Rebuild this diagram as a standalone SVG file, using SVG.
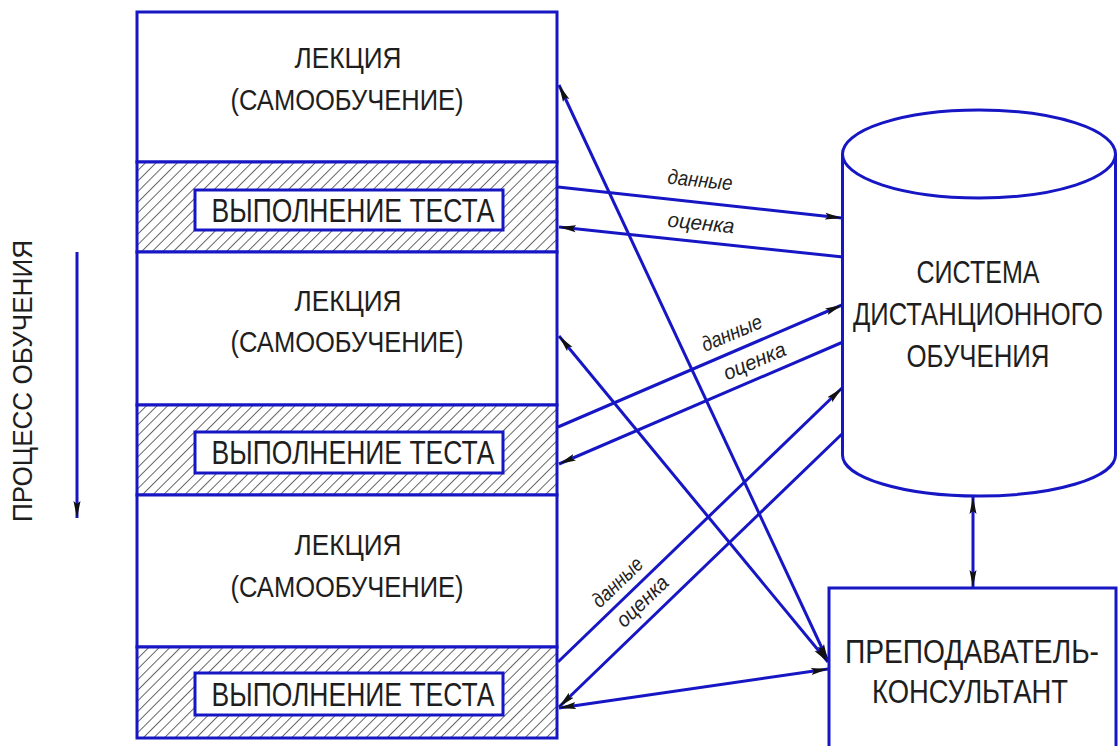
<svg xmlns="http://www.w3.org/2000/svg" width="1119" height="746" viewBox="0 0 1119 746">
<defs>
<style>
.box{fill:#fff;stroke:#1616c4;stroke-width:3}
.hatchbox{fill:url(#hatch);stroke:#1616c4;stroke-width:3}
.ln{fill:none;stroke:#1616c4;stroke-width:3}
.t{font-family:"Liberation Sans",Arial,sans-serif;fill:#1e1e1e;text-anchor:middle}
.lbl{font-family:"Liberation Sans",Arial,sans-serif;font-style:italic;fill:#222;text-anchor:middle;font-size:21px}
</style>
<pattern id="hatch" width="7.5" height="7.5" patternUnits="userSpaceOnUse" patternTransform="rotate(45)">
<rect width="7.5" height="7.5" fill="#fff"/>
<line x1="0.5" y1="0" x2="0.5" y2="7.5" stroke="#555" stroke-width="0.9"/>
</pattern>
<marker id="ah" viewBox="0 -5 18 10" refX="17" refY="0" markerWidth="18" markerHeight="10" markerUnits="userSpaceOnUse" orient="auto-start-reverse">
<path d="M0,-3.5 L17,0 L0,3.5 L3,0 Z" fill="#111"/>
</marker>
</defs>
<rect width="1119" height="746" fill="#fff"/>

<g id="process">
<text class="t" font-size="28" transform="translate(32,381) rotate(-90)" textLength="282" lengthAdjust="spacingAndGlyphs">ПРОЦЕСС ОБУЧЕНИЯ</text>
<line class="ln" x1="77" y1="252" x2="77" y2="518" marker-end="url(#ah)"/>
</g>

<g id="lecture1">
<rect class="box" x="137" y="12" width="420" height="150"/>
<text class="t" x="348" y="68" font-size="29" textLength="107" lengthAdjust="spacingAndGlyphs">ЛЕКЦИЯ</text>
<text class="t" x="347" y="110" font-size="29" textLength="233" lengthAdjust="spacingAndGlyphs">(САМООБУЧЕНИЕ)</text>
</g>
<g id="test1">
<rect class="hatchbox" x="137" y="162" width="420" height="90"/>
<rect class="box" x="195" y="190" width="308" height="40"/>
<text class="t" x="353" y="222" font-size="34" textLength="283" lengthAdjust="spacingAndGlyphs">ВЫПОЛНЕНИЕ ТЕСТА</text>
</g>
<g id="lecture2">
<rect class="box" x="137" y="252" width="420" height="153"/>
<text class="t" x="348" y="311" font-size="29" textLength="107" lengthAdjust="spacingAndGlyphs">ЛЕКЦИЯ</text>
<text class="t" x="347" y="352" font-size="29" textLength="233" lengthAdjust="spacingAndGlyphs">(САМООБУЧЕНИЕ)</text>
</g>
<g id="test2">
<rect class="hatchbox" x="137" y="405" width="420" height="90"/>
<rect class="box" x="195" y="432" width="308" height="41"/>
<text class="t" x="353" y="464" font-size="34" textLength="283" lengthAdjust="spacingAndGlyphs">ВЫПОЛНЕНИЕ ТЕСТА</text>
</g>
<g id="lecture3">
<rect class="box" x="137" y="495" width="420" height="152"/>
<text class="t" x="348" y="555" font-size="29" textLength="107" lengthAdjust="spacingAndGlyphs">ЛЕКЦИЯ</text>
<text class="t" x="347" y="597" font-size="29" textLength="233" lengthAdjust="spacingAndGlyphs">(САМООБУЧЕНИЕ)</text>
</g>
<g id="test3">
<rect class="hatchbox" x="137" y="647" width="420" height="91"/>
<rect class="box" x="195" y="673" width="308" height="42"/>
<text class="t" x="353" y="706" font-size="34" textLength="283" lengthAdjust="spacingAndGlyphs">ВЫПОЛНЕНИЕ ТЕСТА</text>
</g>

<g id="lms">
<path class="box" d="M842.5,154 L842.5,455 A136.5,41 0 0 0 1115.5,455 L1115.5,154"/>
<ellipse class="box" cx="979" cy="154" rx="136.5" ry="44"/>
<text class="t" x="978" y="283" font-size="32" textLength="123" lengthAdjust="spacingAndGlyphs">СИСТЕМА</text>
<text class="t" transform="translate(978,325) scale(1,1.2)" font-size="26.5" textLength="250" lengthAdjust="spacingAndGlyphs">ДИСТАНЦИОННОГО</text>
<text class="t" x="978" y="367" font-size="32" textLength="143" lengthAdjust="spacingAndGlyphs">ОБУЧЕНИЯ</text>
</g>

<g id="teacher">
<rect class="box" x="829" y="588" width="287" height="175"/>
<text class="t" transform="translate(972,663) scale(1,1.25)" font-size="27" textLength="254" lengthAdjust="spacingAndGlyphs">ПРЕПОДАВАТЕЛЬ-</text>
<text class="t" x="970" y="703" font-size="34" textLength="196" lengthAdjust="spacingAndGlyphs">КОНСУЛЬТАНТ</text>
</g>

<g id="connectors">
<line class="ln" x1="558" y1="187" x2="842" y2="218" marker-end="url(#ah)"/>
<line class="ln" x1="843" y1="257" x2="559" y2="227" marker-end="url(#ah)"/>
<line class="ln" x1="558" y1="427" x2="842" y2="305" marker-end="url(#ah)"/>
<line class="ln" x1="843" y1="342" x2="559" y2="464" marker-end="url(#ah)"/>
<line class="ln" x1="558" y1="662" x2="842" y2="388" marker-end="url(#ah)"/>
<line class="ln" x1="843" y1="433" x2="559" y2="707" marker-end="url(#ah)"/>
<line class="ln" x1="559" y1="85" x2="828" y2="661" marker-start="url(#ah)" marker-end="url(#ah)"/>
<line class="ln" x1="559" y1="336" x2="828" y2="662" marker-start="url(#ah)" marker-end="url(#ah)"/>
<line class="ln" x1="559" y1="708" x2="828" y2="669" marker-start="url(#ah)" marker-end="url(#ah)"/>
<line class="ln" x1="973" y1="497" x2="973" y2="587" marker-start="url(#ah)" marker-end="url(#ah)"/>
<text class="lbl" transform="translate(700,181) rotate(6)" y="6" textLength="65" lengthAdjust="spacingAndGlyphs">данные</text>
<text class="lbl" transform="translate(701,224) rotate(6)" y="6" textLength="67" lengthAdjust="spacingAndGlyphs">оценка</text>
<text class="lbl" transform="translate(732,334) rotate(-23)" y="6" textLength="64" lengthAdjust="spacingAndGlyphs">данные</text>
<text class="lbl" transform="translate(755,362) rotate(-23)" y="6" textLength="66" lengthAdjust="spacingAndGlyphs">оценка</text>
<text class="lbl" transform="translate(618,583) rotate(-44)" y="6" textLength="62" lengthAdjust="spacingAndGlyphs">данные</text>
<text class="lbl" transform="translate(643,602) rotate(-44)" y="6" textLength="64" lengthAdjust="spacingAndGlyphs">оценка</text>
</g>
</svg>
